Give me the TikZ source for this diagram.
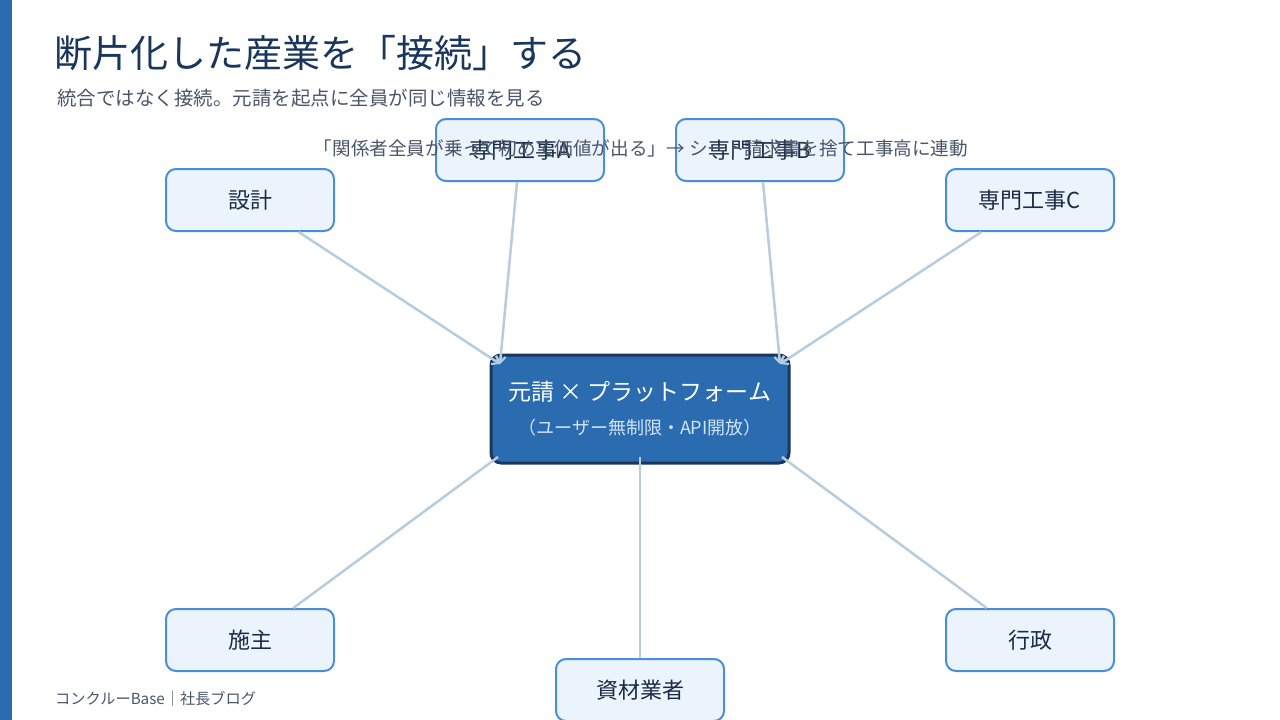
\documentclass[tikz,border=0pt]{standalone}
\usepackage{fontspec}
\setmainfont{Noto Sans CJK JP}
\usepackage{tikz}
\usetikzlibrary{positioning, arrows.meta, calc}
\definecolor{cBar}     {HTML}{2B6CB0}
\definecolor{cTitle}   {HTML}{1A365D}
\definecolor{cMuted}   {HTML}{4A5568}
\definecolor{cBoxFill} {HTML}{EBF3FC}
\definecolor{cBoxLine} {HTML}{4A8FD6}
\definecolor{cBoxText} {HTML}{1A2B45}
\definecolor{cHubFill} {HTML}{2B6CB0}
\definecolor{cHubLine} {HTML}{1A365D}
\definecolor{cHubSub}  {HTML}{D2E4F7}
\definecolor{cLink}    {HTML}{B8CCDF}
\tikzset{
  party/.style={draw=cBoxLine, fill=cBoxFill, rounded corners=10pt, line width=2pt,
                minimum width=168pt, minimum height=62pt,
                font=\fontsize{22}{25}\selectfont, text=cBoxText},
  link/.style={draw=cLink, line width=2.5pt},
}

\begin{document}
\begin{tikzpicture}[x=1pt, y=-1pt]
  \useasboundingbox (0,0) rectangle (1280,720);
  \fill[cBar] (0,0) rectangle (12,720);

  \node[anchor=west, inner sep=0pt, font=\fontsize{38}{42}\selectfont, text=cTitle]
        (title) at (54,53) {断片化した産業を「接続」する};
  \node[anchor=west, inner sep=0pt, font=\fontsize{19.5}{22}\selectfont, text=cMuted]
        (subtitle) at (57,98) {統合ではなく接続。元請を起点に全員が同じ情報を見る};

  % hub
  \node[draw=cHubLine, fill=cHubFill, rounded corners=10pt, line width=3pt,
        minimum width=298pt, minimum height=108pt, align=center, text=white,
        font=\fontsize{23}{27}\selectfont]
        (hub) at (640,409)
        {元請 × プラットフォーム\\[7pt]
         {\fontsize{18}{21}\selectfont\color{cHubSub}（ユーザー無制限・API開放）}};
  \coordinate (hubTL) at (500,364);
  \coordinate (hubTR) at (780,364);
  \coordinate (hubBL) at (498,457);
  \coordinate (hubBM) at (640,457);
  \coordinate (hubBR) at (782,457);

  % parties
  \foreach \nm/\x/\y/\txt in {sekkei/250/200/設計, senA/520/150/専門工事A,
      senB/760/150/専門工事B, senC/1030/200/専門工事C, seshu/250/640/施主,
      shizai/640/690/資材業者, gyosei/1030/640/行政}
    \node[party] (\nm) at (\x,\y) {\txt};

  \foreach \nm/\hb in {sekkei/hubTL, senA/hubTL, senB/hubTR, senC/hubTR}
    \draw[link, -{Straight Barb[length=6pt, width=10pt, line width=2pt]}] (\nm) -- (\hb);
  \foreach \hb/\nm in {hubBL/seshu, hubBM/shizai, hubBR/gyosei}
    \draw[link] (\hb) -- (\nm);

  \node[inner sep=0pt, font=\fontsize{18.6}{21}\selectfont, text=cMuted]
        (note) at (641,148) {「関係者全員が乗って初めて価値が出る」→ シート請求書を捨て工事高に連動};

  \node[anchor=west, inner sep=0pt, font=\fontsize{15.2}{18}\selectfont, text=cMuted]
        (footer) at (55,699) {コンクルーBase｜社長ブログ};
\end{tikzpicture}
\end{document}
